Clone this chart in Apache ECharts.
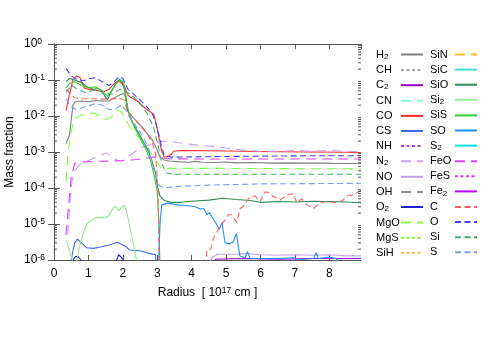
<!DOCTYPE html>
<html>
<head>
<meta charset="utf-8">
<script src="https://cdn.jsdelivr.net/npm/echarts@6/dist/echarts.min.js"></script>
<style>
  html, body { margin: 0; padding: 0; background: #fff; }
  #chart { width: 491px; height: 343px; }
</style>
</head>
<body>
<div id="chart"></div>
<script>
// radius in 1e17 cm, mass fraction
const X_MAX = 8.92;
const X_TICKS = [0, 1, 2, 3, 4, 5, 6, 7, 8];
const Y_TICKS = [1e-6, 1e-5, 1e-4, 1e-3, 1e-2, 1e-1, 1];

const H2 = [[0.35,1.7e-3],[0.45,3e-3],[0.55,2e-2],[0.62,2.5e-2],[0.8,2.6e-2],[1.0,2.5e-2],[1.2,2.7e-2],[1.4,2.6e-2],[1.6,2.6e-2],[1.75,3.2e-2],[1.9,3.8e-2],[2.02,4.3e-2],[2.08,3.2e-2],[2.15,1.3e-2],[2.3,9e-3],[2.45,6.3e-3],[2.6,4.5e-3],[2.7,3.3e-3],[2.8,2.6e-3],[2.9,1.8e-3],[3.0,1.1e-3],[3.08,7.2e-4],[3.2,6e-4],[3.35,5.6e-4],[3.6,5.4e-4],[3.9,5.2e-4],[4.1,5.5e-4],[4.3,5.2e-4],[4.7,5.1e-4],[5.0,5.3e-4],[5.3,5e-4],[5.8,5.1e-4],[6.3,4.9e-4],[6.8,5e-4],[7.3,4.9e-4],[7.8,4.9e-4],[8.3,4.8e-4],[8.92,4.8e-4]];
const CH = [];
const C2 = [[4.5,5e-7],[4.7,1.05e-6],[5.5,1.1e-6],[6.5,1.05e-6],[7.5,1.1e-6],[8.5,1.1e-6],[8.92,1.1e-6]];
const CN = [];
const CO = [[0.35,1.4e-2],[0.42,3e-2],[0.55,1e-1],[0.65,1.3e-1],[0.75,1.2e-1],[0.88,6e-2],[1.0,5.5e-2],[1.2,5.2e-2],[1.45,4.7e-2],[1.6,5.5e-2],[1.75,8e-2],[1.87,9.5e-2],[1.97,8e-2],[2.05,6.5e-2],[2.15,3.8e-2],[2.3,3e-2],[2.45,2.5e-2],[2.6,1.8e-2],[2.75,1.4e-2],[2.9,1.1e-2],[2.97,6e-3],[3.05,2.5e-3],[3.12,1.1e-3],[3.2,7.4e-4],[3.3,7.4e-4],[3.4,8.5e-4],[3.48,1.05e-3],[3.7,1.1e-3],[4.5,1.08e-3],[5.5,1.05e-3],[6.5,1.02e-3],[7.5,1.0e-3],[8.5,9.8e-4],[8.92,9.6e-4]];
const CS = [[0.4,1e-7],[0.5,1e-6],[0.6,3e-6],[0.68,3.8e-6],[0.8,3e-6],[0.95,2.2e-6],[1.15,2.1e-6],[1.35,2.3e-6],[1.6,2.6e-6],[1.85,3.1e-6],[2.05,2.5e-6],[2.2,1.9e-6],[2.5,1.8e-6],[2.8,1.5e-6],[2.95,1.4e-6],[3.0,1e-7]];
const NH = [];
const N2 = [[0.4,5e-6],[0.45,3e-5],[0.52,1.5e-4],[0.6,3e-4],[0.75,4.5e-4],[0.95,5.5e-4],[1.2,7e-4],[1.4,8.5e-4],[1.53,9.5e-4],[1.7,7e-4],[1.9,5.5e-4],[2.05,6e-4],[2.2,8e-4],[2.5,1.3e-3],[2.9,1.75e-3],[3.1,2.0e-3],[3.5,1.9e-3],[3.8,1.7e-3],[4.2,1.55e-3],[4.7,1.4e-3],[5.1,1.25e-3],[5.6,1.1e-3],[6.0,1.05e-3],[6.5,1.05e-3],[7.0,1.1e-3],[7.5,1.05e-3],[8.0,1.1e-3],[8.5,1.05e-3],[8.92,1.0e-3]];
const NO = [[4.4,5e-7],[4.6,1.2e-6],[4.75,1.45e-6],[5.2,1.45e-6],[5.6,1.5e-6],[6.0,1.4e-6],[6.5,1.35e-6],[7.0,1.4e-6],[7.5,1.35e-6],[8.0,1.4e-6],[8.5,1.3e-6],[8.92,1.3e-6]];
const OH = [];
const O2 = [[0.45,5e-7],[0.55,1e-6],[0.62,1.25e-6],[0.7,1.25e-6],[0.78,1e-6],[0.85,5e-7],[1.75,5e-7],[1.82,1e-6],[1.88,1.4e-6],[1.95,1.2e-6],[2.02,1e-6],[2.1,5e-7]];
const MgO = [[0.35,1.5e-4],[0.4,8e-4],[0.48,3e-3],[0.55,6e-3],[0.65,9e-3],[0.75,1e-2],[0.95,1.2e-2],[1.15,1.2e-2],[1.35,1e-2],[1.5,8e-3],[1.65,9e-3],[1.85,1.5e-2],[1.95,1.3e-2],[2.08,8e-3],[2.2,5e-3],[2.4,3e-3],[2.6,1.8e-3],[2.8,1e-3],[2.95,6e-4],[3.1,3.8e-4],[3.3,3.5e-4],[5.0,3.5e-4],[8.92,3.4e-4]];
const MgS = [];
const SiH = [];
const SiN = [];
const SiC = [];
const SiO = [[0.35,9e-2],[0.45,1.1e-1],[0.6,1.0e-1],[0.8,8.5e-2],[0.95,6.5e-2],[1.15,5.5e-2],[1.3,5.8e-2],[1.45,4e-2],[1.55,2.8e-2],[1.65,4.5e-2],[1.8,8e-2],[1.9,1.05e-1],[2.0,8e-2],[2.08,4e-2],[2.15,1.4e-2],[2.3,6e-3],[2.45,3.5e-3],[2.6,1.9e-3],[2.75,1e-3],[2.85,5.5e-4],[2.95,2.5e-4],[3.0,1.2e-4],[3.08,6e-5],[3.2,4.5e-5],[3.4,4e-5],[3.7,4e-5],[4.0,4.3e-5],[4.5,4.6e-5],[4.9,5.2e-5],[5.3,4.8e-5],[5.7,4.5e-5],[6.0,4e-5],[6.5,4.2e-5],[7.0,4.1e-5],[7.5,4.3e-5],[8.0,4.2e-5],[8.5,4.1e-5],[8.92,3.9e-5]];
const Si2 = [[0.35,3.5e-6],[0.45,1.8e-6],[0.56,8e-7],[0.62,5e-7],[0.66,1e-6],[0.8,4e-6],[0.95,1e-5],[1.2,1.5e-5],[1.45,1.5e-5],[1.57,1.6e-5],[1.72,2.8e-5],[1.8,3.1e-5],[1.87,2.3e-5],[1.95,2.8e-5],[2.03,3.3e-5],[2.1,2.5e-5],[2.25,5e-6],[2.4,1e-6],[2.5,3e-7]];
const SiS = [[0.35,6e-2],[0.45,8e-2],[0.6,9e-2],[0.8,7e-2],[1.0,6e-2],[1.2,6.5e-2],[1.4,5e-2],[1.55,3.5e-2],[1.7,5.5e-2],[1.85,9e-2],[1.95,1.0e-1],[2.03,8.5e-2],[2.1,2.5e-2],[2.2,1e-2],[2.35,4.5e-3],[2.5,2.5e-3],[2.65,1.3e-3],[2.8,6e-4],[2.92,2e-4],[3.0,8e-5],[3.05,1e-5],[3.1,1e-7]];
const SO = [[3.03,5e-7],[3.08,1e-5],[3.13,3.4e-5],[3.3,3.8e-5],[3.6,3.4e-5],[3.9,3.2e-5],[4.1,3.0e-5],[4.25,2.6e-5],[4.35,2.7e-5],[4.45,1.8e-5],[4.52,2.1e-5],[4.6,1.5e-5],[4.65,1.5e-5],[4.72,1.0e-5],[4.8,7e-6],[4.88,1.1e-5],[4.97,3e-6],[5.1,2.8e-6],[5.2,3.1e-6],[5.3,5.5e-6],[5.4,1.3e-6],[5.55,1.15e-6],[5.62,1.7e-6],[5.7,1.1e-6],[6.0,1.1e-6],[6.5,1.1e-6],[7.0,1.15e-6],[7.05,1.0e-6],[7.55,1.1e-6],[7.62,1.6e-6],[7.68,1.1e-6],[8.0,1.2e-6],[8.2,1.1e-6],[8.3,8e-7]];
const S2 = [];
const FeO = [[0.35,5e-6],[0.42,3e-5],[0.5,2e-4],[0.6,4.8e-4],[0.8,5.3e-4],[1.2,5.5e-4],[1.6,5.6e-4],[2.0,5.8e-4],[2.4,6.2e-4],[2.7,6.8e-4],[2.9,7.3e-4],[3.1,7e-4],[3.3,6.5e-4],[4.0,6.4e-4],[6.0,6.4e-4],[8.92,6.4e-4]];
const FeS = [];
const Fe2 = [];
const C = [[0.35,5.5e-2],[0.45,4.5e-2],[0.6,3.2e-2],[0.8,3e-2],[1.0,3e-2],[1.3,3e-2],[1.6,2.9e-2],[1.9,3.1e-2],[2.05,2.8e-2],[2.12,1.5e-2],[2.3,9e-3],[2.5,5.5e-3],[2.7,3.2e-3],[2.85,1.9e-3],[2.95,9e-4],[3.02,1e-4],[3.06,1e-6],[3.1,1e-7],[4.38,1e-7],[4.44,1.9e-6],[4.55,2e-6],[4.63,4e-6],[4.83,8.5e-6],[4.97,1.3e-5],[5.07,1.8e-5],[5.17,1.8e-5],[5.31,1.1e-5],[5.41,2.7e-5],[5.5,3.1e-5],[5.7,5.8e-5],[5.84,6e-5],[5.99,4.2e-5],[6.13,7.8e-5],[6.25,7.5e-5],[6.37,5.8e-5],[6.57,4.6e-5],[6.76,6.3e-5],[6.96,7.1e-5],[7.05,3.9e-5],[7.2,5e-5],[7.35,3.4e-5],[7.54,2.7e-5],[7.73,3.9e-5],[7.92,4.2e-5],[8.22,3.9e-5],[8.4,4.6e-5],[8.55,6.3e-5],[8.7,6.3e-5],[8.92,8.9e-5]];
const O = [[0.35,2.1e-1],[0.5,1.3e-1],[0.65,1.05e-1],[0.85,9.5e-2],[1.05,1.1e-1],[1.2,1.15e-1],[1.4,9e-2],[1.6,7e-2],[1.75,9e-2],[1.9,1.25e-1],[2.0,1.1e-1],[2.15,5.5e-2],[2.3,4.2e-2],[2.5,2.8e-2],[2.7,1.8e-2],[2.85,1.2e-2],[2.95,6.5e-3],[3.05,3e-3],[3.12,1.5e-3],[3.2,8e-4],[3.4,7.2e-4],[4.0,7.3e-4],[5.0,7.5e-4],[6.0,7.7e-4],[7.0,7.8e-4],[8.0,7.9e-4],[8.92,7.9e-4]];
const Si = [[0.35,4.5e-2],[0.5,7e-2],[0.7,5.5e-2],[0.9,4.5e-2],[1.1,5e-2],[1.3,5.5e-2],[1.5,4.5e-2],[1.7,4e-2],[1.9,5.5e-2],[2.05,5e-2],[2.2,4e-2],[2.3,3.5e-2],[2.5,2.2e-2],[2.7,1.2e-2],[2.89,5e-3],[3.03,1.4e-3],[3.13,4.8e-4],[3.27,2.6e-4],[3.5,2.4e-4],[5.0,2.4e-4],[8.92,2.4e-4]];
const S = [[0.35,3e-2],[0.5,1.8e-2],[0.65,1.5e-2],[0.9,1.8e-2],[1.2,2.2e-2],[1.4,2.0e-2],[1.6,1.5e-2],[1.8,1.6e-2],[1.95,2e-2],[2.08,1.5e-2],[2.2,9e-3],[2.4,5e-3],[2.6,2.5e-3],[2.75,1.2e-3],[2.85,5e-4],[2.95,2.3e-4],[3.05,1.2e-4],[3.2,1.0e-4],[3.5,1.1e-4],[4.5,1.2e-4],[6.0,1.3e-4],[8.92,1.35e-4]];

const LEGEND_COL1 = ['H2', 'CH', 'C2', 'CN', 'CO', 'CS', 'NH', 'N2', 'NO', 'OH', 'O2', 'MgO', 'MgS', 'SiH'];
const LEGEND_COL2 = ['SiN', 'SiC', 'SiO', 'Si2', 'SiS', 'SO', 'S2', 'FeO', 'FeS', 'Fe2', 'C', 'O', 'Si', 'S'];

const SPECIES = { H2, CH, C2, CN, CO, CS, NH, N2, NO, OH, O2, MgO, MgS, SiH, SiN, SiC, SiO, Si2, SiS, SO, S2, FeO, FeS, Fe2, C, O, Si, S };

// colour + line type per species
const STYLES = {
  H2: ['#7f7f7f', 'solid'], CH: ['#a0a0a0', 'dotted'], C2: ['#9400d3', 'solid'], CN: ['#7fffd4', 'dashed'],
  CO: ['#ff2a2a', 'solid'], CS: ['#4169e1', 'solid'], NH: ['#a040ff', 'dotted'], N2: ['#c8a0ff', 'dashed'],
  NO: ['#c0a0f0', 'solid'], OH: ['#909090', 'dashed'], O2: ['#1c1cdc', 'solid'], MgO: ['#80ff40', 'dashed'],
  MgS: ['#80ff20', 'dotted'], SiH: ['#ffc040', 'dotted'], SiN: ['#ffc020', 'dashed'], SiC: ['#40e0d0', 'solid'],
  SiO: ['#2e8b57', 'solid'], Si2: ['#90ee90', 'solid'], SiS: ['#32cd32', 'solid'], SO: ['#1e90ff', 'solid'],
  S2: ['#00e5ee', 'solid'], FeO: ['#e040ff', 'dashed'], FeS: ['#d040f0', 'dotted'], Fe2: ['#c000ff', 'solid'],
  C: ['#ff6060', 'dashdot'], O: ['#4040ff', 'dashdot'], Si: ['#3cb371', 'dashdot'], S: ['#7b9cf0', 'dashdot']
};
const DASH = { solid: 'solid', dashed: [10, 6], dotted: [3, 2.5], dashdot: [6, 3.5] };

const AXIS = '#555';
const FONT = 'Liberation Sans, Arial, Helvetica, sans-serif';

// log minor ticks 2..9 per decade
const MINOR = [];
for (let i = 0; i < Y_TICKS.length - 1; i++) {
  for (let k = 2; k <= 9; k++) MINOR.push(Y_TICKS[i] * k);
}

const expRich = {
  b: { fontSize: 12, lineHeight: 14, fontFamily: FONT, color: '#000' },
  e: { fontSize: 8.5, lineHeight: 6, verticalAlign: 'top', fontFamily: FONT, color: '#000' }
};
function powLabel(v) {
  return '{b|10}{e|' + Math.round(Math.log10(v)) + '}';
}
function legendLabel(name) {
  const m = name.match(/^(.*?)(\d)$/);
  return m ? '{n|' + m[1] + '}{s|' + m[2] + '}' : '{n|' + name + '}';
}

const series = Object.keys(SPECIES).map((name) => ({
  name,
  type: 'line',
  data: SPECIES[name],
  symbol: 'circle',
  showSymbol: false,
  symbolSize: 0,
  lineStyle: { color: STYLES[name][0], type: DASH[STYLES[name][1]], width: 1.1 },
  itemStyle: { color: STYLES[name][0] },
  emphasis: { disabled: true },
  z: 3
}));

series.push({
  type: 'custom',
  silent: true,
  z: 5,
  data: MINOR.map((v) => [0, v]),
  renderItem: (params, api) => {
    const v = api.value(1);
    const l = api.coord([0, v]);
    const r = api.coord([X_MAX, v]);
    return {
      type: 'group',
      children: [
        { type: 'line', shape: { x1: l[0], y1: l[1], x2: l[0] + 3, y2: l[1] }, style: { stroke: AXIS, lineWidth: 1 } },
        { type: 'line', shape: { x1: r[0] - 3, y1: r[1], x2: r[0], y2: r[1] }, style: { stroke: AXIS, lineWidth: 1 } }
      ]
    };
  }
});

const legendBase = {
  orient: 'vertical',
  align: 'right',
  top: 49,
  padding: 0,
  itemWidth: 22,
  itemHeight: 12,
  itemGap: 4.1,
  selectedMode: false,
  itemStyle: { color: 'transparent', borderWidth: 0 },
  formatter: legendLabel,
  textStyle: {
    width: 20,
    color: '#000',
    fontSize: 11,
    fontFamily: FONT,
    rich: {
      n: { fontSize: 11, lineHeight: 12, align: 'left', fontFamily: FONT },
      s: { fontSize: 8, lineHeight: 4, verticalAlign: 'bottom', align: 'left', fontFamily: FONT }
    }
  }
};

const xLabel = (v) => (X_TICKS.includes(v) ? String(v) : '');

const option = {
  animation: false,
  textStyle: { fontFamily: FONT },
  grid: { left: 54, top: 44, width: 307, height: 216, containLabel: false, outerBoundsMode: 'none' },
  legend: [
    Object.assign({}, legendBase, { left: 376, data: LEGEND_COL1 }),
    Object.assign({}, legendBase, { left: 430, data: LEGEND_COL2 })
  ],
  xAxis: [
    {
      type: 'value', min: 0, max: X_MAX, interval: 1,
      axisLine: { show: true, lineStyle: { color: AXIS } },
      axisTick: { inside: true, length: 5, lineStyle: { color: AXIS } },
      splitLine: { show: false },
      axisLabel: { margin: 8, fontSize: 12, color: '#000', formatter: xLabel, showMaxLabel: false },
      name: '{n|Radius  [ 10}{e|17}{n| cm ]}',
      nameLocation: 'middle',
      nameGap: 26,
      nameMoveOverlap: false,
      nameTextStyle: {
        rich: {
          n: { fontSize: 12, lineHeight: 14, color: '#000', fontFamily: FONT },
          e: { fontSize: 8.5, lineHeight: 6, verticalAlign: 'top', color: '#000', fontFamily: FONT }
        }
      }
    },
    {
      type: 'value', min: 0, max: X_MAX, interval: 1, position: 'top',
      axisLine: { show: true, lineStyle: { color: AXIS } },
      axisTick: { inside: true, length: 5, lineStyle: { color: AXIS } },
      splitLine: { show: false },
      axisLabel: { show: false }
    }
  ],
  yAxis: [
    {
      type: 'log', logBase: 10, min: 1e-6, max: 1, splitNumber: 6,
      axisLine: { show: true, lineStyle: { color: AXIS } },
      axisTick: { inside: true, length: 6, lineStyle: { color: AXIS } },
      splitLine: { show: false },
      axisLabel: { margin: 30, align: 'left', formatter: powLabel, rich: expRich },
      name: 'Mass fraction',
      nameLocation: 'middle',
      nameGap: 38,
      nameMoveOverlap: false,
      nameRotate: 90,
      nameTextStyle: { fontSize: 12, color: '#000', fontFamily: FONT }
    },
    {
      type: 'log', logBase: 10, min: 1e-6, max: 1, splitNumber: 6, position: 'right',
      axisLine: { show: true, lineStyle: { color: AXIS } },
      axisTick: { inside: true, length: 6, lineStyle: { color: AXIS } },
      splitLine: { show: false },
      axisLabel: { show: false }
    }
  ],
  series
};

const chart = echarts.init(document.getElementById('chart'));
chart.setOption(option);
</script>
</body>
</html>
